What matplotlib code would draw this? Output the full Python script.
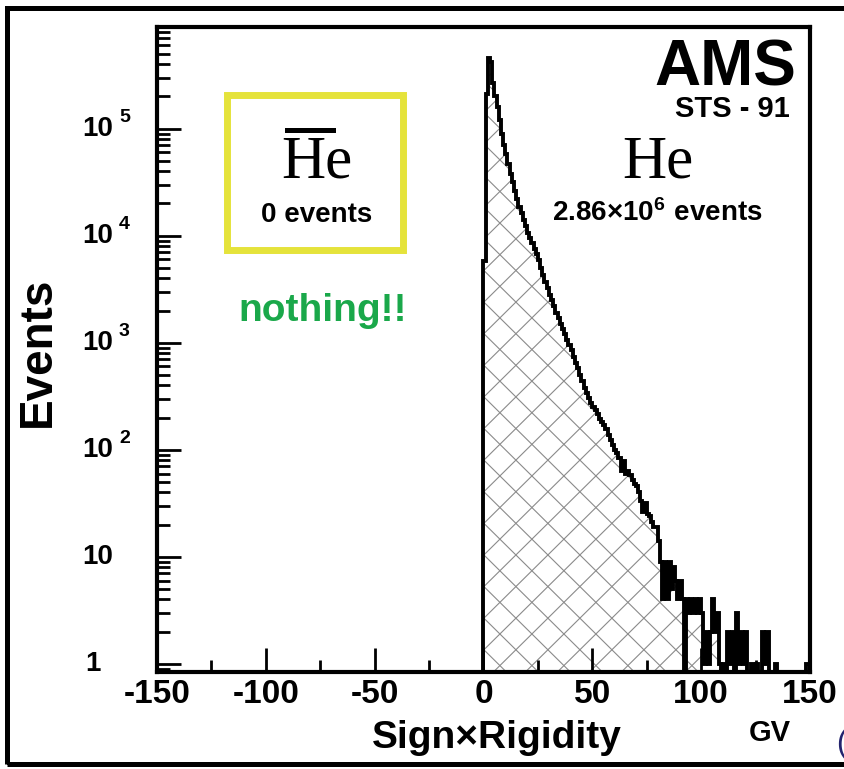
import numpy as np
import matplotlib
matplotlib.use('Agg')
import matplotlib.pyplot as plt
from matplotlib.patches import Rectangle
from matplotlib.collections import LineCollection
from matplotlib.ticker import MultipleLocator, NullFormatter
from matplotlib.transforms import offset_copy

plt.rcParams['font.family'] = ['Liberation Sans', 'DejaVu Sans']
plt.rcParams['mathtext.fontset'] = 'custom'
plt.rcParams['mathtext.rm'] = 'Liberation Sans:bold'

# helium sign x rigidity spectrum, 1 GV bins from 0 to 150 GV (negative side empty)
edges = np.arange(0, 151, 1)
counts = np.array([
    5750, 209000, 457000, 417000, 269000, 200000, 158000, 120000, 89000, 71000,
    57500, 46800, 38000, 31600, 26300, 21900, 18600, 16200, 14100, 12300,
    10700, 9550, 8500, 7590, 6760, 5890, 5010, 4270, 3720, 3240,
    2820, 2510, 2190, 1910, 1700, 1510, 1350, 1200, 1070, 955,
    851, 741, 646, 575, 501, 437, 380, 339, 302, 275,
    251, 234, 214, 195, 182, 170, 155, 138, 123, 110,
    100, 93, 83, 63, 79, 60, 63, 58, 52, 48,
    46, 40, 33, 26, 32, 25, 24, 21, 19, 19,
    14, 9, 4, 9, 4, 9, 5, 8, 6, 4,
    6, 4, 0, 4, 3, 4, 3, 4, 3, 4,
    3, 1, 2, 1, 2, 4, 2, 3, 1, 0,
    1, 0, 2, 1, 2, 0, 3, 1, 2, 1,
    2, 0, 0, 1, 0, 1, 0, 0, 2, 1,
    2, 0, 0, 0, 1, 0, 0, 0, 0, 0,
    0, 0, 0, 0, 0, 0, 0, 0, 1, 1,
], dtype=float)

xticks = [-150, -100, -50, 0, 50, 100, 150]
xtick_labels = ['-150', '-100', '-50', '0', '50', '100', '150']
ydecades = [0, 1, 2, 3, 4, 5]

W, H = 845, 769
fig = plt.figure(figsize=(W / 100, H / 100), dpi=100)
ax = fig.add_axes([157 / W, 1 - 672 / H, (810 - 157) / W, (672 - 27) / H])
ax.set_yscale('log')

floor = 0.5  # empty bins drop below the visible range
vals = np.where(counts > 0, counts, floor)

# invisible filled shape, used to clip the cross hatching
shape = ax.stairs(vals, edges, baseline=floor, fill=True, facecolor='none',
                  edgecolor='none', zorder=1)
step = 32 / 653
cs = np.arange(-1.2, 1.2, step)
segs = [[(c, 0), (c + 1, 1)] for c in cs] + [[(c, 1), (c + 1, 0)] for c in cs]
hatch = LineCollection(segs, colors='#8a8a8a', linewidths=0.8,
                       transform=ax.transAxes, zorder=1.5)
ax.add_collection(hatch, autolim=False)
hatch.set_clip_path(shape)

ax.stairs(vals, edges, baseline=floor, color='black', linewidth=2.8, zorder=3)

for s in ax.spines.values():
    s.set_linewidth(3.0)
    s.set_zorder(5)

# log ticks: decades long, 2..9 short
major_y = [10.0 ** k for k in range(0, 6)]
minor_y = [m * 10.0 ** k for k in range(-1, 6) for m in range(2, 10)]
ax.set_yticks(major_y)
ax.set_yticks(minor_y, minor=True)
ax.yaxis.set_major_formatter(NullFormatter())
ax.yaxis.set_minor_formatter(NullFormatter())

ax.set_xticks(xticks, labels=xtick_labels)
ax.xaxis.set_minor_locator(MultipleLocator(25))
ax.set_xlim(-150, 150)
ax.set_ylim(0.84, 8.9e5)

ax.tick_params(axis='x', which='both', direction='in', top=False, width=2.0)
ax.tick_params(axis='y', which='both', direction='in', right=False, width=2.0)
ax.tick_params(which='major', length=17)
ax.tick_params(which='minor', length=9)
ax.tick_params(axis='x', pad=5, labelsize=24)
for t in ax.get_xticklabels():
    t.set_fontweight('bold')

# ROOT-style log labels: "10" with the exponent set off to the right
yt = ax.get_yaxis_transform()
sup = offset_copy(yt, fig=fig, x=0, y=11, units='dots')
xa = lambda px: (px - 157) / 653
for k in ydecades:
    if k == 0:
        ax.text(xa(101), 1, '1', transform=yt, ha='right', va='center',
                fontsize=20, fontweight='bold')
        continue
    ax.text(xa(113), 10 ** k, '10', transform=yt, ha='right', va='center',
            fontsize=20, fontweight='bold')
    if k > 1:
        ax.text(xa(119), 10 ** k, str(k), transform=sup, ha='left',
                va='center', fontsize=14, fontweight='bold')

fx = lambda px: px / W
fy = lambda py: 1 - py / H

fig.text(fx(38), fy(352), 'Events', rotation=90, ha='center', va='center',
         fontsize=33, fontweight='bold')
fig.text(fx(497), fy(748), 'Sign×Rigidity', ha='center', va='baseline',
         fontsize=28, fontweight='bold')
fig.text(fx(770), fy(741), 'GV', ha='center', va='baseline',
         fontsize=21, fontweight='bold')

fig.text(fx(796), fy(86), 'AMS', ha='right', va='baseline',
         fontsize=46, fontweight='bold')
fig.text(fx(790), fy(117), 'STS - 91', ha='right', va='baseline',
         fontsize=21, fontweight='bold')

# antihelium box
fig.add_artist(Rectangle((fx(227.5), fy(249.5)), (403.5 - 227.5) / W,
                         (249.5 - 94.5) / H, transform=fig.transFigure,
                         fill=False, edgecolor='#e5e33b', linewidth=5.0))
fig.text(fx(317), fy(177), 'He', ha='center', va='baseline',
         fontsize=44, family='Liberation Serif')
fig.add_artist(Rectangle((fx(285), fy(133)), 51 / W, 5 / H,
                         transform=fig.transFigure, color='black', lw=0))
fig.text(fx(317), fy(222), '0 events', ha='center', va='baseline',
         fontsize=20, fontweight='bold')
fig.text(fx(323), fy(321), 'nothing!!', ha='center', va='baseline',
         fontsize=28, fontweight='bold', color='#1aa84a')

# helium label
fig.text(fx(658), fy(177), 'He', ha='center', va='baseline',
         fontsize=44, family='Liberation Serif')
fig.text(fx(657), fy(221), r'$\mathregular{2.86{\times}10^{6}\ events}$',
         ha='center', va='baseline', fontsize=20, fontweight='bold')

# outer frame, right side runs off the page
fig.add_artist(Rectangle((fx(7.5), fy(764)), 1.0, (764 - 7.5) / H,
                         transform=fig.transFigure, fill=False,
                         edgecolor='black', linewidth=3.6))
fig.text(fx(836), fy(752), '(', ha='left', va='baseline', fontsize=22,
         color='#23236e')

fig.savefig('out.png', dpi=100)
